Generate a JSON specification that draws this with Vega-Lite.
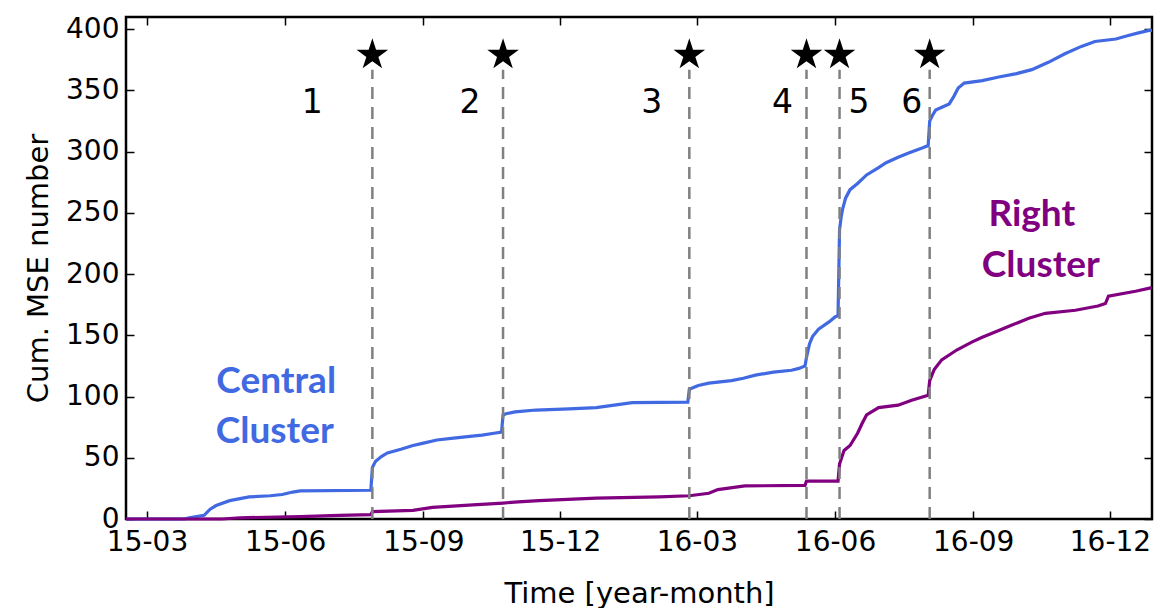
{
  "$schema": "https://vega.github.io/schema/vega-lite/v6.json",
  "width": 1026,
  "height": 502,
  "autosize": {"type": "none"},
  "padding": {"left": 126, "top": 17, "right": 6, "bottom": 89},
  "background": "white",
  "config": {
    "font": "DejaVu Sans",
    "view": {"stroke": "black", "strokeWidth": 2.5},
    "axis": {"grid": false, "domain": false, "tickColor": "black", "tickWidth": 1.5, "tickSize": 8, "offset": -8, "labelColor": "black", "titleColor": "black", "labelFontSize": 28, "titleFontSize": 29, "titleFontWeight": "normal"}
  },
  "datasets": {
    "curves": [
      {"date": "2015-02-15", "value": 0, "cluster": "Central"},
      {"date": "2015-03-26", "value": 0, "cluster": "Central"},
      {"date": "2015-03-29", "value": 1, "cluster": "Central"},
      {"date": "2015-04-08", "value": 3, "cluster": "Central"},
      {"date": "2015-04-12", "value": 8, "cluster": "Central"},
      {"date": "2015-04-16", "value": 11, "cluster": "Central"},
      {"date": "2015-04-25", "value": 15, "cluster": "Central"},
      {"date": "2015-05-08", "value": 18, "cluster": "Central"},
      {"date": "2015-05-22", "value": 19, "cluster": "Central"},
      {"date": "2015-05-30", "value": 20, "cluster": "Central"},
      {"date": "2015-06-06", "value": 22, "cluster": "Central"},
      {"date": "2015-06-11", "value": 23, "cluster": "Central"},
      {"date": "2015-07-28", "value": 23.5, "cluster": "Central"},
      {"date": "2015-07-29", "value": 42, "cluster": "Central"},
      {"date": "2015-07-31", "value": 47, "cluster": "Central"},
      {"date": "2015-08-04", "value": 51, "cluster": "Central"},
      {"date": "2015-08-08", "value": 54, "cluster": "Central"},
      {"date": "2015-08-17", "value": 57, "cluster": "Central"},
      {"date": "2015-08-25", "value": 60, "cluster": "Central"},
      {"date": "2015-09-01", "value": 62, "cluster": "Central"},
      {"date": "2015-09-10", "value": 64.5, "cluster": "Central"},
      {"date": "2015-09-21", "value": 66, "cluster": "Central"},
      {"date": "2015-10-02", "value": 67.5, "cluster": "Central"},
      {"date": "2015-10-10", "value": 68.5, "cluster": "Central"},
      {"date": "2015-10-18", "value": 70, "cluster": "Central"},
      {"date": "2015-10-23", "value": 71, "cluster": "Central"},
      {"date": "2015-10-24", "value": 85, "cluster": "Central"},
      {"date": "2015-10-26", "value": 86, "cluster": "Central"},
      {"date": "2015-11-01", "value": 87.5, "cluster": "Central"},
      {"date": "2015-11-15", "value": 89, "cluster": "Central"},
      {"date": "2015-12-07", "value": 90, "cluster": "Central"},
      {"date": "2015-12-25", "value": 91, "cluster": "Central"},
      {"date": "2016-01-06", "value": 93, "cluster": "Central"},
      {"date": "2016-01-18", "value": 95, "cluster": "Central"},
      {"date": "2016-02-24", "value": 95.5, "cluster": "Central"},
      {"date": "2016-02-25", "value": 106, "cluster": "Central"},
      {"date": "2016-03-02", "value": 109, "cluster": "Central"},
      {"date": "2016-03-09", "value": 111, "cluster": "Central"},
      {"date": "2016-03-24", "value": 113, "cluster": "Central"},
      {"date": "2016-04-01", "value": 115, "cluster": "Central"},
      {"date": "2016-04-09", "value": 117.5, "cluster": "Central"},
      {"date": "2016-04-21", "value": 120, "cluster": "Central"},
      {"date": "2016-05-03", "value": 121.5, "cluster": "Central"},
      {"date": "2016-05-08", "value": 123, "cluster": "Central"},
      {"date": "2016-05-12", "value": 125, "cluster": "Central"},
      {"date": "2016-05-13", "value": 132, "cluster": "Central"},
      {"date": "2016-05-15", "value": 143, "cluster": "Central"},
      {"date": "2016-05-17", "value": 149, "cluster": "Central"},
      {"date": "2016-05-21", "value": 155, "cluster": "Central"},
      {"date": "2016-05-28", "value": 161, "cluster": "Central"},
      {"date": "2016-06-01", "value": 165, "cluster": "Central"},
      {"date": "2016-06-03", "value": 166, "cluster": "Central"},
      {"date": "2016-06-04", "value": 236, "cluster": "Central"},
      {"date": "2016-06-05", "value": 246, "cluster": "Central"},
      {"date": "2016-06-06", "value": 253, "cluster": "Central"},
      {"date": "2016-06-08", "value": 262, "cluster": "Central"},
      {"date": "2016-06-11", "value": 269, "cluster": "Central"},
      {"date": "2016-06-16", "value": 274, "cluster": "Central"},
      {"date": "2016-06-22", "value": 281, "cluster": "Central"},
      {"date": "2016-06-30", "value": 287, "cluster": "Central"},
      {"date": "2016-07-05", "value": 291, "cluster": "Central"},
      {"date": "2016-07-13", "value": 295.5, "cluster": "Central"},
      {"date": "2016-07-20", "value": 299, "cluster": "Central"},
      {"date": "2016-07-29", "value": 303, "cluster": "Central"},
      {"date": "2016-08-02", "value": 305, "cluster": "Central"},
      {"date": "2016-08-03", "value": 325, "cluster": "Central"},
      {"date": "2016-08-05", "value": 330, "cluster": "Central"},
      {"date": "2016-08-07", "value": 334, "cluster": "Central"},
      {"date": "2016-08-16", "value": 339, "cluster": "Central"},
      {"date": "2016-08-19", "value": 345, "cluster": "Central"},
      {"date": "2016-08-22", "value": 352, "cluster": "Central"},
      {"date": "2016-08-26", "value": 356, "cluster": "Central"},
      {"date": "2016-09-07", "value": 358, "cluster": "Central"},
      {"date": "2016-09-18", "value": 361, "cluster": "Central"},
      {"date": "2016-09-29", "value": 363.5, "cluster": "Central"},
      {"date": "2016-10-10", "value": 367, "cluster": "Central"},
      {"date": "2016-10-21", "value": 373, "cluster": "Central"},
      {"date": "2016-11-01", "value": 380, "cluster": "Central"},
      {"date": "2016-11-12", "value": 386, "cluster": "Central"},
      {"date": "2016-11-21", "value": 390, "cluster": "Central"},
      {"date": "2016-12-05", "value": 392, "cluster": "Central"},
      {"date": "2016-12-12", "value": 394.5, "cluster": "Central"},
      {"date": "2016-12-20", "value": 397, "cluster": "Central"},
      {"date": "2016-12-27", "value": 399, "cluster": "Central"},
      {"date": "2016-12-29", "value": 399, "cluster": "Central"},
      {"date": "2015-02-15", "value": 0, "cluster": "Right"},
      {"date": "2015-04-20", "value": 0, "cluster": "Right"},
      {"date": "2015-05-02", "value": 1, "cluster": "Right"},
      {"date": "2015-06-11", "value": 2, "cluster": "Right"},
      {"date": "2015-07-07", "value": 3, "cluster": "Right"},
      {"date": "2015-07-28", "value": 3.5, "cluster": "Right"},
      {"date": "2015-07-29", "value": 6, "cluster": "Right"},
      {"date": "2015-08-25", "value": 7, "cluster": "Right"},
      {"date": "2015-09-07", "value": 9.5, "cluster": "Right"},
      {"date": "2015-10-04", "value": 11.5, "cluster": "Right"},
      {"date": "2015-10-24", "value": 13, "cluster": "Right"},
      {"date": "2015-11-03", "value": 14, "cluster": "Right"},
      {"date": "2015-11-17", "value": 15, "cluster": "Right"},
      {"date": "2015-12-25", "value": 17, "cluster": "Right"},
      {"date": "2016-02-05", "value": 18, "cluster": "Right"},
      {"date": "2016-02-25", "value": 19, "cluster": "Right"},
      {"date": "2016-03-09", "value": 21, "cluster": "Right"},
      {"date": "2016-03-15", "value": 24, "cluster": "Right"},
      {"date": "2016-04-02", "value": 27, "cluster": "Right"},
      {"date": "2016-05-12", "value": 27.5, "cluster": "Right"},
      {"date": "2016-05-13", "value": 31, "cluster": "Right"},
      {"date": "2016-06-03", "value": 31, "cluster": "Right"},
      {"date": "2016-06-04", "value": 45, "cluster": "Right"},
      {"date": "2016-06-07", "value": 56, "cluster": "Right"},
      {"date": "2016-06-11", "value": 60, "cluster": "Right"},
      {"date": "2016-06-16", "value": 70, "cluster": "Right"},
      {"date": "2016-06-19", "value": 78, "cluster": "Right"},
      {"date": "2016-06-22", "value": 85, "cluster": "Right"},
      {"date": "2016-06-30", "value": 91, "cluster": "Right"},
      {"date": "2016-07-13", "value": 93, "cluster": "Right"},
      {"date": "2016-07-22", "value": 97, "cluster": "Right"},
      {"date": "2016-08-02", "value": 101, "cluster": "Right"},
      {"date": "2016-08-03", "value": 113, "cluster": "Right"},
      {"date": "2016-08-06", "value": 122, "cluster": "Right"},
      {"date": "2016-08-11", "value": 130, "cluster": "Right"},
      {"date": "2016-08-21", "value": 138, "cluster": "Right"},
      {"date": "2016-08-31", "value": 144.5, "cluster": "Right"},
      {"date": "2016-09-07", "value": 148.5, "cluster": "Right"},
      {"date": "2016-09-18", "value": 154, "cluster": "Right"},
      {"date": "2016-09-26", "value": 158, "cluster": "Right"},
      {"date": "2016-10-08", "value": 164, "cluster": "Right"},
      {"date": "2016-10-19", "value": 168, "cluster": "Right"},
      {"date": "2016-11-08", "value": 170.5, "cluster": "Right"},
      {"date": "2016-11-23", "value": 174, "cluster": "Right"},
      {"date": "2016-11-28", "value": 176, "cluster": "Right"},
      {"date": "2016-11-30", "value": 182, "cluster": "Right"},
      {"date": "2016-12-18", "value": 186, "cluster": "Right"},
      {"date": "2016-12-29", "value": 189, "cluster": "Right"}
    ],
    "events": [
      {"n": "1", "date": "2015-07-29", "labelDate": "2015-06-19", "star": 379, "top": 367, "bottom": 0, "labelY": 340},
      {"n": "2", "date": "2015-10-24", "labelDate": "2015-10-02", "star": 379, "top": 367, "bottom": 0, "labelY": 340},
      {"n": "3", "date": "2016-02-25", "labelDate": "2016-01-31", "star": 379, "top": 367, "bottom": 0, "labelY": 340},
      {"n": "4", "date": "2016-05-13", "labelDate": "2016-04-27", "star": 379, "top": 367, "bottom": 0, "labelY": 340},
      {"n": "5", "date": "2016-06-04", "labelDate": "2016-06-17", "star": 379, "top": 367, "bottom": 0, "labelY": 340},
      {"n": "6", "date": "2016-08-03", "labelDate": "2016-07-22", "star": 379, "top": 367, "bottom": 0, "labelY": 340}
    ],
    "notes": [
      {"text": "Central", "date": "2015-05-26", "value": 111.7, "cluster": "Central"},
      {"text": "Cluster", "date": "2015-05-25", "value": 71, "cluster": "Central"},
      {"text": "Right", "date": "2016-10-10", "value": 248, "cluster": "Right"},
      {"text": "Cluster", "date": "2016-10-16", "value": 207, "cluster": "Right"}
    ]
  },
  "resolve": {"axis": {"x": "independent", "y": "independent"}},
  "layer": [
    {
      "data": {"name": "curves"},
      "mark": {"type": "line", "interpolate": "linear", "strokeWidth": 3.2},
      "encoding": {
        "x": {
          "field": "date", "type": "temporal",
          "scale": {"domain": [{"year": 2015, "month": 2, "date": 15}, {"year": 2016, "month": 12, "date": 29}]},
          "axis": {
            "orient": "bottom", "title": "Time [year-month]", "format": "%y-%m", "labelPadding": 9, "titlePadding": 23,
            "values": [
              {"year": 2015, "month": 3, "date": 1},
              {"year": 2015, "month": 6, "date": 1},
              {"year": 2015, "month": 9, "date": 1},
              {"year": 2015, "month": 12, "date": 1},
              {"year": 2016, "month": 3, "date": 1},
              {"year": 2016, "month": 6, "date": 1},
              {"year": 2016, "month": 9, "date": 1},
              {"year": 2016, "month": 12, "date": 1}
            ]
          }
        },
        "y": {
          "field": "value", "type": "quantitative",
          "scale": {"domain": [0, 410], "nice": false},
          "axis": {"orient": "left", "title": "Cum. MSE number", "values": [0, 50, 100, 150, 200, 250, 300, 350, 400], "labelPadding": 7, "titlePadding": 12}
        },
        "color": {"field": "cluster", "type": "nominal", "scale": {"domain": ["Central", "Right"], "range": ["#4169E1", "#800080"]}, "legend": null}
      }
    },
    {
      "data": {"name": "events"},
      "mark": {"type": "rule", "color": "#808080", "strokeWidth": 2.5, "strokeDash": [12, 8]},
      "encoding": {
        "x": {"field": "date", "type": "temporal", "axis": null},
        "y": {"field": "bottom", "type": "quantitative", "axis": null},
        "y2": {"field": "top"}
      }
    },
    {
      "data": {"name": "events"},
      "mark": {"type": "point", "shape": "M0,-1L0.2245,-0.309L0.951,-0.309L0.363,0.118L0.588,0.809L0,0.382L-0.588,0.809L-0.363,0.118L-0.951,-0.309L-0.2245,-0.309Z", "filled": true, "color": "black", "size": 1100, "opacity": 1},
      "encoding": {
        "x": {
          "field": "date", "type": "temporal",
          "axis": {
            "orient": "top", "title": null, "labels": false,
            "values": [
              {"year": 2015, "month": 3, "date": 1},
              {"year": 2015, "month": 6, "date": 1},
              {"year": 2015, "month": 9, "date": 1},
              {"year": 2015, "month": 12, "date": 1},
              {"year": 2016, "month": 3, "date": 1},
              {"year": 2016, "month": 6, "date": 1},
              {"year": 2016, "month": 9, "date": 1},
              {"year": 2016, "month": 12, "date": 1}
            ]
          }
        },
        "y": {"field": "star", "type": "quantitative", "axis": {"orient": "right", "title": null, "labels": false, "values": [0, 50, 100, 150, 200, 250, 300, 350, 400]}}
      }
    },
    {
      "data": {"name": "events"},
      "mark": {"type": "text", "fontSize": 33, "color": "black", "align": "center", "baseline": "middle"},
      "encoding": {
        "x": {"field": "labelDate", "type": "temporal", "axis": null},
        "y": {"field": "labelY", "type": "quantitative", "axis": null},
        "text": {"field": "n"}
      }
    },
    {
      "data": {"name": "notes"},
      "mark": {"type": "text", "font": "Lato", "fontWeight": "bold", "fontSize": 37, "align": "center", "baseline": "middle"},
      "encoding": {
        "x": {"field": "date", "type": "temporal", "axis": null},
        "y": {"field": "value", "type": "quantitative", "axis": null},
        "text": {"field": "text"},
        "color": {"field": "cluster", "type": "nominal", "legend": null}
      }
    }
  ]
}
